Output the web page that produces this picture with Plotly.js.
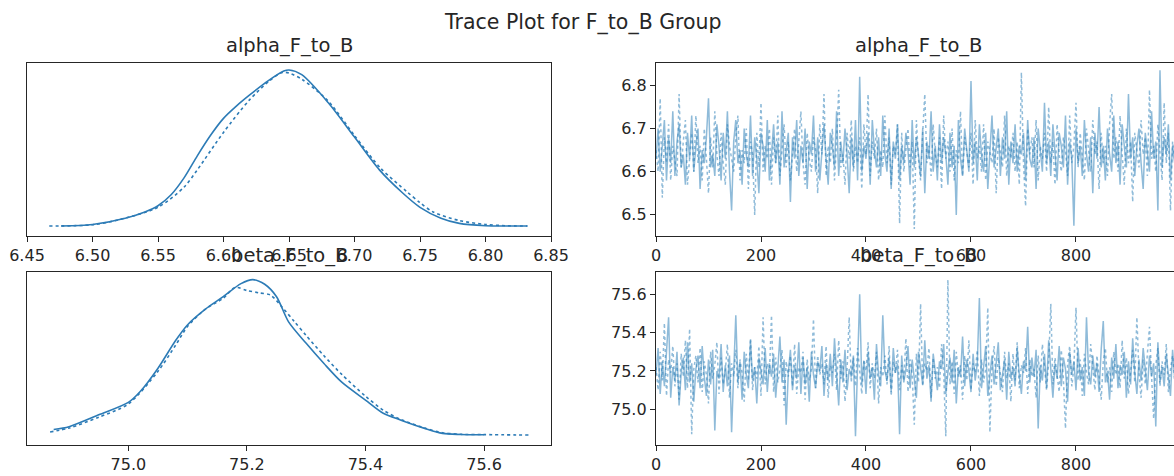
<!DOCTYPE html>
<html>
<head>
<meta charset="utf-8">
<script src="https://cdn.plot.ly/plotly-3.0.1.min.js"></script>
<style>html,body{margin:0;padding:0;background:#fff;}#chart{width:1174px;height:476px;}</style>
</head>
<body>
<div id="chart"></div>
<script>
// ---------------- data ----------------
const chartTitle = "Trace Plot for F_to_B Group";
const paramNames = ["alpha_F_to_B", "beta_F_to_B"];
const drawStep = 4; // every 4th draw shown

// KDE of alpha, chain 0 (solid) and chain 1 (dotted); density normalised to the peak
const kdeAlphaX0 = [6.476, 6.50, 6.525, 6.54, 6.55, 6.56, 6.57, 6.58, 6.59, 6.60, 6.61, 6.62, 6.634, 6.646, 6.65, 6.6597, 6.68, 6.70, 6.719, 6.737, 6.75, 6.766, 6.78, 6.80, 6.815, 6.832];
const kdeAlphaY0 = [0.0, 0.01, 0.05, 0.09, 0.13, 0.20, 0.31, 0.45, 0.58, 0.69, 0.77, 0.84, 0.93, 0.993, 1.0, 0.97, 0.79, 0.57, 0.36, 0.21, 0.12, 0.05, 0.017, 0.002, 0.0, 0.0];
const kdeAlphaX1 = [6.467, 6.50, 6.52, 6.55, 6.57, 6.58, 6.60, 6.62, 6.635, 6.645, 6.65, 6.66, 6.68, 6.70, 6.72, 6.74, 6.75, 6.76, 6.78, 6.80, 6.815, 6.832];
const kdeAlphaY1 = [0.0, 0.008, 0.04, 0.12, 0.25, 0.36, 0.60, 0.81, 0.93, 0.985, 0.98, 0.94, 0.80, 0.58, 0.37, 0.22, 0.15, 0.09, 0.035, 0.01, 0.002, 0.0];

// KDE of beta, chain 0 (solid) and chain 1 (dotted)
const kdeBetaX0 = [74.874, 74.90, 74.95, 75.00, 75.02, 75.05, 75.08, 75.10, 75.13, 75.16, 75.19, 75.21, 75.23, 75.25, 75.27, 75.30, 75.33, 75.36, 75.40, 75.43, 75.46, 75.50, 75.53, 75.56, 75.60];
const kdeBetaY0 = [0.036, 0.054, 0.13, 0.21, 0.28, 0.43, 0.61, 0.71, 0.81, 0.89, 0.974, 1.0, 0.97, 0.89, 0.73, 0.59, 0.46, 0.34, 0.225, 0.14, 0.096, 0.043, 0.011, 0.004, 0.002];
const kdeBetaX1 = [74.868, 74.90, 74.95, 75.00, 75.05, 75.08, 75.10, 75.13, 75.16, 75.18, 75.20, 75.22, 75.24, 75.26, 75.28, 75.30, 75.33, 75.36, 75.40, 75.43, 75.46, 75.50, 75.53, 75.56, 75.60, 75.675];
const kdeBetaY1 = [0.02, 0.045, 0.115, 0.20, 0.41, 0.58, 0.70, 0.81, 0.88, 0.95, 0.93, 0.915, 0.90, 0.82, 0.73, 0.64, 0.51, 0.39, 0.25, 0.16, 0.10, 0.045, 0.015, 0.005, 0.003, 0.0];

// trace of alpha, chain 0 (solid)
const traceAlpha0 = [
6.63,6.70,6.60,6.66,6.72,6.58,6.68,6.62,6.74,6.59,
6.67,6.71,6.61,6.64,6.57,6.69,6.63,6.73,6.60,6.66,
6.70,6.56,6.65,6.62,6.68,6.77,6.61,6.64,6.59,6.71,
6.66,6.58,6.69,6.63,6.74,6.60,6.51,6.67,6.72,6.62,
6.65,6.57,6.70,6.64,6.61,6.73,6.59,6.68,6.63,6.55,
6.69,6.66,6.60,6.72,6.58,6.64,6.71,6.62,6.67,6.57,
6.74,6.61,6.65,6.69,6.53,6.68,6.63,6.72,6.59,6.66,
6.62,6.70,6.56,6.67,6.64,6.73,6.60,6.68,6.58,6.65,
6.71,6.63,6.57,6.69,6.66,6.61,6.74,6.59,6.67,6.62,
6.70,6.64,6.55,6.68,6.61,6.72,6.58,6.82,6.60,6.66,
6.63,6.69,6.57,6.72,6.65,6.61,6.68,6.59,6.73,6.64,
6.60,6.70,6.56,6.67,6.63,6.71,6.58,6.66,6.62,6.69,
6.65,6.57,6.72,6.61,6.68,6.64,6.59,6.70,6.55,6.67,
6.63,6.74,6.60,6.66,6.58,6.71,6.62,6.68,6.64,6.57,
6.69,6.61,6.66,6.50,6.72,6.63,6.59,6.70,6.65,6.60,
6.81,6.62,6.67,6.58,6.71,6.64,6.60,6.69,6.56,6.66,
6.73,6.61,6.65,6.70,6.59,6.68,6.63,6.74,6.57,6.67,
6.62,6.71,6.60,6.66,6.64,6.69,6.58,6.72,6.63,6.61,
6.68,6.56,6.70,6.65,6.60,6.76,6.62,6.67,6.59,6.71,
6.64,6.58,6.69,6.66,6.61,6.73,6.57,6.67,6.63,6.475,
6.70,6.62,6.66,6.59,6.72,6.64,6.60,6.68,6.55,6.69,
6.63,6.75,6.61,6.66,6.58,6.70,6.64,6.60,6.73,6.62,
6.67,6.57,6.71,6.65,6.61,6.78,6.63,6.68,6.59,6.66,
6.70,6.62,6.56,6.69,6.64,6.60,6.74,6.63,6.67,6.51,
6.835,6.61,6.68,6.64,6.71,6.58,6.66,6.62,6.69,6.65];

// trace of alpha, chain 1 (dotted)
const traceAlpha1 = [
6.65,6.60,6.77,6.54,6.68,6.62,6.71,6.58,6.66,6.63,
6.59,6.78,6.61,6.67,6.72,6.57,6.64,6.69,6.60,6.73,
6.62,6.66,6.58,6.70,6.63,6.55,6.68,6.61,6.74,6.64,
6.59,6.69,6.62,6.57,6.71,6.66,6.63,6.60,6.68,6.73,
6.58,6.65,6.62,6.70,6.56,6.67,6.64,6.50,6.69,6.61,
6.76,6.60,6.66,6.63,6.70,6.57,6.68,6.62,6.73,6.59,
6.65,6.71,6.61,6.67,6.58,6.64,6.70,6.60,6.66,6.74,
6.62,6.57,6.69,6.63,6.60,6.68,6.65,6.55,6.71,6.64,
6.78,6.59,6.66,6.62,6.70,6.58,6.67,6.79,6.61,6.64,
6.57,6.69,6.63,6.72,6.60,6.66,6.62,6.68,6.56,6.71,
6.64,6.78,6.59,6.67,6.63,6.70,6.58,6.65,6.61,6.73,
6.62,6.68,6.57,6.66,6.64,6.71,6.48,6.69,6.60,6.65,
6.70,6.61,6.67,6.467,6.72,6.63,6.58,6.69,6.78,6.62,
6.66,6.59,6.71,6.64,6.61,6.68,6.56,6.73,6.63,6.67,
6.60,6.70,6.58,6.65,6.62,6.74,6.59,6.68,6.64,6.61,
6.69,6.57,6.72,6.63,6.66,6.60,6.71,6.58,6.67,6.64,
6.62,6.70,6.55,6.68,6.65,6.61,6.73,6.59,6.66,6.63,
6.69,6.60,6.67,6.57,6.83,6.62,6.52,6.70,6.64,6.68,
6.61,6.72,6.58,6.66,6.63,6.69,6.60,6.75,6.62,6.67,
6.57,6.71,6.64,6.60,6.68,6.65,6.59,6.73,6.62,6.66,
6.76,6.61,6.69,6.63,6.58,6.70,6.65,6.60,6.72,6.64,
6.67,6.56,6.69,6.62,6.66,6.59,6.71,6.78,6.63,6.68,
6.60,6.73,6.64,6.57,6.70,6.62,6.67,6.53,6.69,6.65,
6.61,6.72,6.64,6.68,6.59,6.79,6.63,6.66,6.60,6.71,
6.64,6.58,6.76,6.62,6.69,6.51,6.67,6.63,6.70,6.60];

// trace of beta, chain 0 (solid)
const traceBeta0 = [
75.18,75.32,75.08,75.25,75.12,75.29,75.48,75.06,75.22,75.15,
75.30,75.02,75.19,75.27,75.10,75.35,75.14,75.24,75.04,75.21,
75.28,75.11,75.33,75.17,75.07,75.26,75.13,75.31,74.89,75.20,
75.16,75.34,75.09,75.23,75.12,75.28,74.88,75.19,75.49,75.14,
75.25,75.05,75.30,75.18,75.11,75.36,75.15,75.22,75.03,75.27,
75.20,75.13,75.32,75.09,75.24,75.17,75.29,75.06,75.21,75.38,
75.14,75.26,74.92,75.19,75.31,75.10,75.23,75.16,75.35,75.08,
75.27,75.13,75.22,75.04,75.30,75.18,75.11,75.25,75.20,75.33,
75.07,75.24,75.15,75.29,75.12,75.37,75.19,75.02,75.26,75.14,
75.31,75.10,75.21,75.17,75.28,74.86,75.23,75.60,75.13,75.25,
75.08,75.30,75.16,75.22,75.05,75.34,75.18,75.12,75.49,75.20,
75.15,75.27,75.09,75.32,75.19,75.24,74.87,75.28,75.14,75.21,
75.33,75.11,75.26,75.17,75.06,75.30,75.20,75.13,75.36,75.16,
75.23,75.04,75.29,75.18,75.10,75.25,75.21,75.34,75.08,75.19,
75.27,75.14,75.31,75.03,75.22,75.17,75.38,75.12,75.26,75.20,
75.09,75.29,75.15,75.24,75.58,75.11,75.21,75.33,75.07,75.18,
75.28,75.13,75.23,75.35,75.10,75.19,75.26,75.05,75.30,75.16,
75.22,75.12,75.32,75.18,75.08,75.25,75.20,75.43,75.14,75.27,
75.17,75.31,74.90,75.23,75.15,75.29,75.11,75.36,75.19,75.06,
75.24,75.16,75.33,75.12,75.27,75.21,75.04,75.30,75.18,75.25,
75.10,75.32,75.15,75.22,75.07,75.48,75.19,75.13,75.28,75.17,
75.24,75.09,75.31,75.46,75.14,75.20,75.05,75.27,75.16,75.34,
75.11,75.23,75.18,75.30,75.06,75.25,75.13,75.37,75.19,75.08,
75.26,75.15,75.32,75.21,75.10,75.28,75.17,75.24,74.91,75.35,
75.14,75.22,75.12,75.29,75.19,75.07,75.31,75.16,75.25,75.20];

// trace of beta, chain 1 (dotted)
const traceBeta1 = [
75.22,75.10,75.30,75.15,75.45,75.07,75.26,75.19,75.33,75.12,
75.24,75.05,75.29,75.17,75.36,75.11,75.42,74.87,75.21,75.28,
75.14,75.32,75.09,75.25,75.18,75.03,75.30,75.16,75.23,75.35,
75.08,75.27,75.13,75.20,75.34,75.06,75.24,75.17,75.31,75.11,
75.26,75.19,75.04,75.29,75.15,75.37,75.10,75.22,75.16,75.33,
75.07,75.48,75.13,75.24,75.18,75.49,75.09,75.27,75.14,75.21,
75.31,75.02,75.25,75.17,75.28,75.12,75.34,75.08,75.22,75.19,
75.30,75.05,75.26,75.15,75.21,75.47,75.11,75.28,75.18,75.24,
75.13,75.33,75.06,75.23,75.19,75.29,75.10,75.36,75.16,75.25,
75.04,75.21,75.48,75.14,75.27,75.12,75.32,75.18,75.08,75.26,
75.20,75.35,75.11,75.24,75.16,75.30,75.03,75.22,75.17,75.28,
75.13,75.33,75.07,75.25,75.19,75.31,75.10,75.23,75.15,75.37,
75.09,75.26,75.18,74.92,75.29,75.14,75.55,75.12,75.24,75.20,
75.32,75.06,75.27,75.16,75.22,75.11,75.34,75.19,74.86,75.675,
75.13,75.25,75.08,75.30,75.17,75.23,75.05,75.28,75.15,75.36,
75.10,75.24,75.19,75.31,75.07,75.26,75.14,75.21,75.53,74.88,
75.22,75.33,75.12,75.27,75.18,75.09,75.30,75.16,75.24,75.04,
75.29,75.15,75.35,75.11,75.23,75.19,75.32,75.08,75.26,75.17,
75.21,75.06,75.28,75.14,75.34,75.20,75.10,75.25,75.55,75.13,
75.27,75.18,75.09,75.31,75.16,74.90,75.24,75.33,75.12,75.22,
75.53,75.15,75.26,75.07,75.29,75.19,75.13,75.34,75.21,75.10,
75.28,75.17,75.05,75.25,75.32,75.14,75.22,75.09,75.30,75.18,
75.24,75.11,75.36,75.16,75.27,75.08,75.21,75.31,75.14,75.48,
75.19,75.06,75.26,75.13,75.29,75.43,75.17,74.95,75.23,75.32,
75.12,75.25,75.18,75.34,75.09,75.21,75.28,75.15,75.24,75.19];

// ---------------- figure ----------------
const draws = traceAlpha0.map((_, i) => i * drawStep);
const kdeColor = "#2c7bb6";
const traceColor = "rgba(31,119,180,0.5)";
const FONT = "DejaVu Sans, Liberation Sans, sans-serif";

function kde(x, y, xa, ya, dotted) {
  return {x: x, y: y, xaxis: xa, yaxis: ya, type: "scatter", mode: "lines",
    line: {color: kdeColor, width: 1.6, dash: dotted ? "dot" : "solid", shape: "spline", smoothing: 0.8},
    hoverinfo: "skip"};
}
function trc(y, xa, ya, dotted) {
  return {x: draws, y: y, xaxis: xa, yaxis: ya, type: "scatter", mode: "lines",
    line: {color: traceColor, width: 1.5, dash: dotted ? "dot" : "solid"}, hoverinfo: "skip"};
}

const data = [
  trc(traceAlpha0, "x2", "y2", false),
  trc(traceAlpha1, "x2", "y2", true),
  trc(traceBeta0, "x4", "y4", false),
  trc(traceBeta1, "x4", "y4", true),
  kde(kdeAlphaX1, kdeAlphaY1, "x", "y", true),
  kde(kdeAlphaX0, kdeAlphaY0, "x", "y", false),
  kde(kdeBetaX1, kdeBetaY1, "x3", "y3", true),
  kde(kdeBetaX0, kdeBetaY0, "x3", "y3", false)
];

const W = 1174, H = 476;
const leftDom = [27 / W, 551 / W];
const rightDom = [656 / W, 1];
const topDom = [1 - 236 / H, 1 - 63 / H];
const botDom = [1 - 445 / H, 1 - 272 / H];
const tickFont = {family: FONT, size: 16, color: "#262626"};
const lineCol = "#262626";

function xax(dom, anchor, range, dtick, tick0, fmt) {
  return {domain: dom, anchor: anchor, range: range, dtick: dtick, tick0: tick0, tickformat: fmt,
    showline: true, mirror: true, linecolor: lineCol, linewidth: 1.2, ticks: "outside", ticklen: 5,
    tickcolor: lineCol, tickfont: tickFont, showgrid: false, zeroline: false, fixedrange: true};
}
function yaxKde(dom, anchor, range) {
  return {domain: dom, anchor: anchor, range: range, showline: true, mirror: true, linecolor: lineCol,
    linewidth: 1.2, showticklabels: false, ticks: "", showgrid: false, zeroline: false, fixedrange: true};
}
function yaxTrace(dom, anchor, range, dtick, tick0) {
  return {domain: dom, anchor: anchor, range: range, dtick: dtick, tick0: tick0, tickformat: ".1f",
    showline: true, mirror: false, linecolor: lineCol, linewidth: 1.2, ticks: "outside", ticklen: 5,
    tickcolor: lineCol, tickfont: tickFont, showgrid: false, zeroline: false, fixedrange: true};
}

const titleFont = {family: FONT, size: 19.5, color: "#262626"};
function subTitle(text, xc, yc) {
  return {text: text, xref: "paper", yref: "paper", x: xc, y: yc, xanchor: "center", yanchor: "middle",
    showarrow: false, font: titleFont};
}

const layout = {
  width: W, height: H,
  margin: {l: 0, r: 0, t: 0, b: 0},
  paper_bgcolor: "#ffffff", plot_bgcolor: "#ffffff",
  showlegend: false,
  font: {family: FONT, color: "#262626"},
  xaxis: xax(leftDom, "y", [6.45, 6.85], 0.05, 6.45, ".2f"),
  yaxis: yaxKde(topDom, "x", [-0.064, 1.045]),
  xaxis2: xax(rightDom, "y2", [0, 986.7], 200, 0, "d"),
  yaxis2: yaxTrace(topDom, "x2", [6.451, 6.852], 0.1, 6.5),
  xaxis3: xax(leftDom, "y3", [74.829, 75.713], 0.2, 75.0, ".1f"),
  yaxis3: yaxKde(botDom, "x3", [-0.064, 1.049]),
  xaxis4: xax(rightDom, "y4", [0, 986.7], 200, 0, "d"),
  yaxis4: yaxTrace(botDom, "x4", [74.814, 75.716], 0.2, 75.0),
  annotations: [
    {text: chartTitle, xref: "paper", yref: "paper", x: 583 / W, y: 1 - 22 / H, xanchor: "center",
     yanchor: "middle", showarrow: false, font: {family: FONT, size: 20.5, color: "#262626"}},
    subTitle(paramNames[0], 289 / W, 1 - 46 / H),
    subTitle(paramNames[0], 918 / W, 1 - 46 / H),
    subTitle(paramNames[1], 289 / W, 1 - 255 / H),
    subTitle(paramNames[1], 918 / W, 1 - 255 / H)
  ]
};

Plotly.newPlot("chart", data, layout, {staticPlot: true, displayModeBar: false});
</script>
</body>
</html>
